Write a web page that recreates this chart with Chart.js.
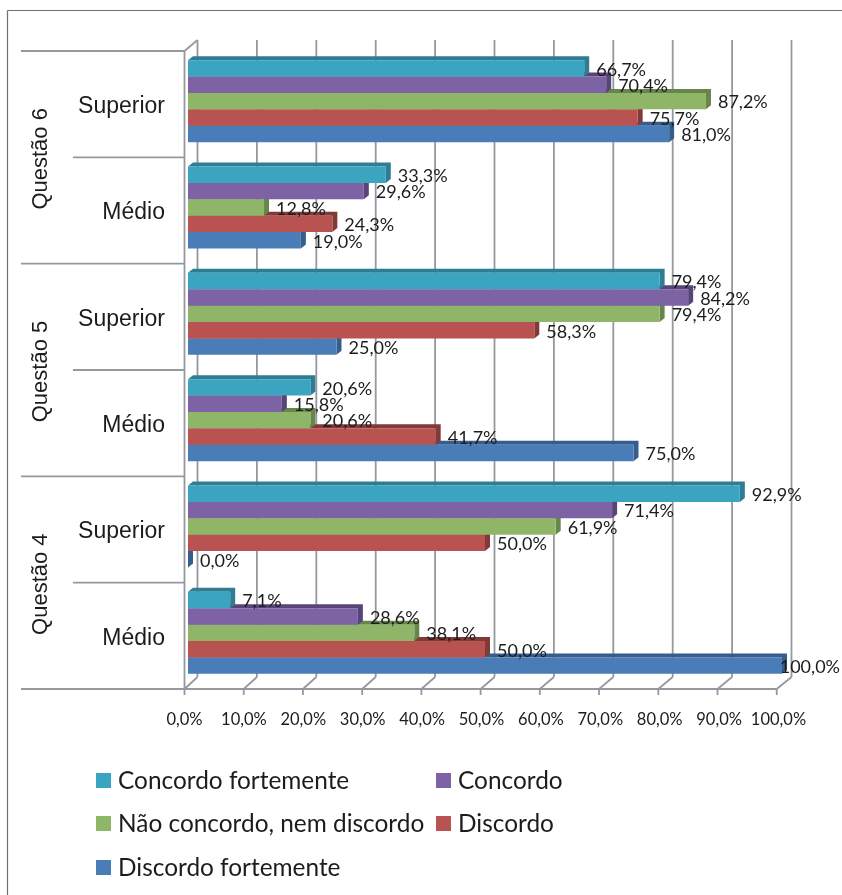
<!DOCTYPE html>
<html>
<head>
<meta charset="utf-8">
<style>
  html, body { margin: 0; padding: 0; background: #fff; }
  canvas { display: block; }
</style>
<script src="https://cdn.jsdelivr.net/npm/chart.js@4/dist/chart.umd.min.js"></script>
</head>
<body>
<canvas id="grafico" width="842" height="895"></canvas>
<script>
const niveis = ['Superior', 'Médio', 'Superior', 'Médio', 'Superior', 'Médio'];
const questoes = ['Questão 6', 'Questão 5', 'Questão 4'];
const categorias = ['Q6 Superior', 'Q6 Médio', 'Q5 Superior', 'Q5 Médio', 'Q4 Superior', 'Q4 Médio'];

const concordoFortemente = [66.7, 33.3, 79.4, 20.6, 92.9, 7.1];
const concordo = [70.4, 29.6, 84.2, 15.8, 71.4, 28.6];
const naoConcordo = [87.2, 12.8, 79.4, 20.6, 61.9, 38.1];
const discordo = [75.7, 24.3, 58.3, 41.7, 50.0, 50.0];
const discordoFortemente = [81.0, 19.0, 25.0, 75.0, 0.0, 100.0];

const legendas = ['Concordo fortemente', 'Concordo', 'Não concordo, nem discordo', 'Discordo', 'Discordo fortemente'];
const cores = ['#3ba5c1', '#7d63a4', '#8eb568', '#b85351', '#4a7cb7'];
const coresEscuras = ['#2e7d92', '#57457a', '#66864a', '#823a39', '#365d8b'];

const CINZA = '#9698a0';
const TEXTO = '#1c1c1c';
const CALIBRI = 'Lato, Carlito, sans-serif';
const ARIAL = '"Liberation Sans", Arial, sans-serif';

// deslocamento da face lateral/topo das barras (efeito 3D)
const DX = 5;
const DY = 4;

const formata = v => v.toFixed(1).replace('.', ',') + '%';

function linha(ctx, x1, y1, x2, y2) {
  ctx.beginPath();
  ctx.moveTo(x1, y1);
  ctx.lineTo(x2, y2);
  ctx.stroke();
}

// paredes, grade e rótulos das categorias, tudo atrás das barras
const fundo3d = {
  id: 'fundo3d',
  beforeDatasetsDraw(chart) {
    const { ctx, chartArea, scales } = chart;
    const { x, y } = scales;
    const topoFrente = chartArea.top + 3;
    const baseFrente = chartArea.bottom + 3;
    const frente = v => chartArea.left - 3.5 + (x.getPixelForValue(v) - chartArea.left) * 0.997;
    const fundo = v => x.getPixelForValue(v) + 9.5;

    ctx.save();

    // moldura da figura
    ctx.strokeStyle = '#6f7074';
    ctx.lineWidth = 1.2;
    linha(ctx, 7.5, 10.5, 842, 10.5);
    linha(ctx, 7.5, 10.5, 7.5, 895);

    ctx.strokeStyle = CINZA;
    ctx.lineWidth = 1.8;
    x.ticks.forEach(t => {
      linha(ctx, fundo(t.value), topoFrente - 11, fundo(t.value), baseFrente - 12);
      linha(ctx, fundo(t.value), baseFrente - 12, frente(t.value), baseFrente);
      linha(ctx, frente(t.value), baseFrente, frente(t.value), baseFrente + 6);
    });
    linha(ctx, frente(0), topoFrente, fundo(0), topoFrente - 11);
    linha(ctx, frente(0), topoFrente, frente(0), baseFrente);
    linha(ctx, frente(0), baseFrente, frente(100), baseFrente);

    // separadores do eixo de categorias
    const passo = y.getPixelForValue(1) - y.getPixelForValue(0);
    for (let i = 0; i <= niveis.length; i++) {
      const py = topoFrente + i * passo;
      linha(ctx, i % 2 === 0 ? 21 : 73, py, frente(0), py);
    }

    ctx.fillStyle = TEXTO;
    ctx.font = '23px ' + ARIAL;
    ctx.textAlign = 'right';
    ctx.textBaseline = 'middle';
    niveis.forEach((n, i) => {
      ctx.fillText(n, 165, y.getPixelForValue(i) + 5.5);
    });

    ctx.font = '22px ' + ARIAL;
    questoes.forEach((q, i) => {
      const cy = (y.getPixelForValue(i * 2) + y.getPixelForValue(i * 2 + 1)) / 2;
      ctx.save();
      ctx.translate(40.5, cy + 4.5);
      ctx.rotate(-Math.PI / 2);
      ctx.textAlign = 'center';
      ctx.fillText(q, 0, 0);
      ctx.restore();
    });
    ctx.restore();
  },

  // faces de cima e da direita, antes da face da frente de cada série
  beforeDatasetDraw(chart, args) {
    const { ctx } = chart;
    const cor = coresEscuras[args.index];
    ctx.save();
    ctx.fillStyle = cor;
    args.meta.data.forEach(bar => {
      const { x, y, base, height } = bar.getProps(['x', 'y', 'base', 'height']);
      const topo = y - height / 2;
      const fim = y + height / 2;
      ctx.beginPath();
      ctx.moveTo(base, topo);
      ctx.lineTo(base + DX, topo - DY);
      ctx.lineTo(x + DX, topo - DY);
      ctx.lineTo(x + DX, fim - DY);
      ctx.lineTo(x, fim);
      ctx.lineTo(x, topo);
      ctx.closePath();
      ctx.fill();
    });
    ctx.restore();
  },

  afterDatasetsDraw(chart) {
    const { ctx } = chart;
    ctx.save();
    ctx.fillStyle = TEXTO;
    ctx.font = '18px ' + CALIBRI;
    ctx.textAlign = 'left';
    ctx.textBaseline = 'middle';
    chart.data.datasets.forEach((ds, d) => {
      chart.getDatasetMeta(d).data.forEach((bar, i) => {
        const txt = formata(ds.data[i]);
        const px = Math.min(bar.x + 12, 840 - ctx.measureText(txt).width);
        ctx.fillText(txt, px, bar.y + 1.5);
      });
    });

    // legenda em duas colunas
    const pos = [[96, 781], [436, 781], [96, 824], [436, 824], [96, 868]];
    ctx.font = '24.4px ' + CALIBRI;
    legendas.forEach((nome, i) => {
      const [lx, ly] = pos[i];
      ctx.fillStyle = cores[i];
      ctx.fillRect(lx, ly - 8, 15, 15);
      ctx.fillStyle = TEXTO;
      ctx.fillText(nome, lx + 22, ly);
    });
    ctx.restore();
  }
};

new Chart(document.getElementById('grafico').getContext('2d'), {
  type: 'bar',
  data: {
    labels: categorias,
    datasets: [
      { label: legendas[0], data: concordoFortemente, backgroundColor: cores[0] },
      { label: legendas[1], data: concordo, backgroundColor: cores[1] },
      { label: legendas[2], data: naoConcordo, backgroundColor: cores[2] },
      { label: legendas[3], data: discordo, backgroundColor: cores[3] },
      { label: legendas[4], data: discordoFortemente, backgroundColor: cores[4] }
    ]
  },
  options: {
    indexAxis: 'y',
    responsive: false,
    animation: false,
    categoryPercentage: 0.771,
    barPercentage: 1,
    layout: { padding: { left: 188, right: 60, top: 48, bottom: 0 } },
    plugins: { legend: { display: false }, tooltip: { enabled: false } },
    scales: {
      x: {
        min: 0,
        max: 100,
        grid: { display: false },
        border: { display: false },
        afterFit: scale => { scale.height = 209; },
        ticks: {
          stepSize: 10,
          maxRotation: 0,
          autoSkip: false,
          padding: 16,
          labelOffset: -3.5,
          color: TEXTO,
          font: { family: 'Lato', size: 16.5 },
          callback: v => formata(v)
        }
      },
      y: { display: false }
    }
  },
  plugins: [fundo3d]
});
</script>
</body>
</html>
